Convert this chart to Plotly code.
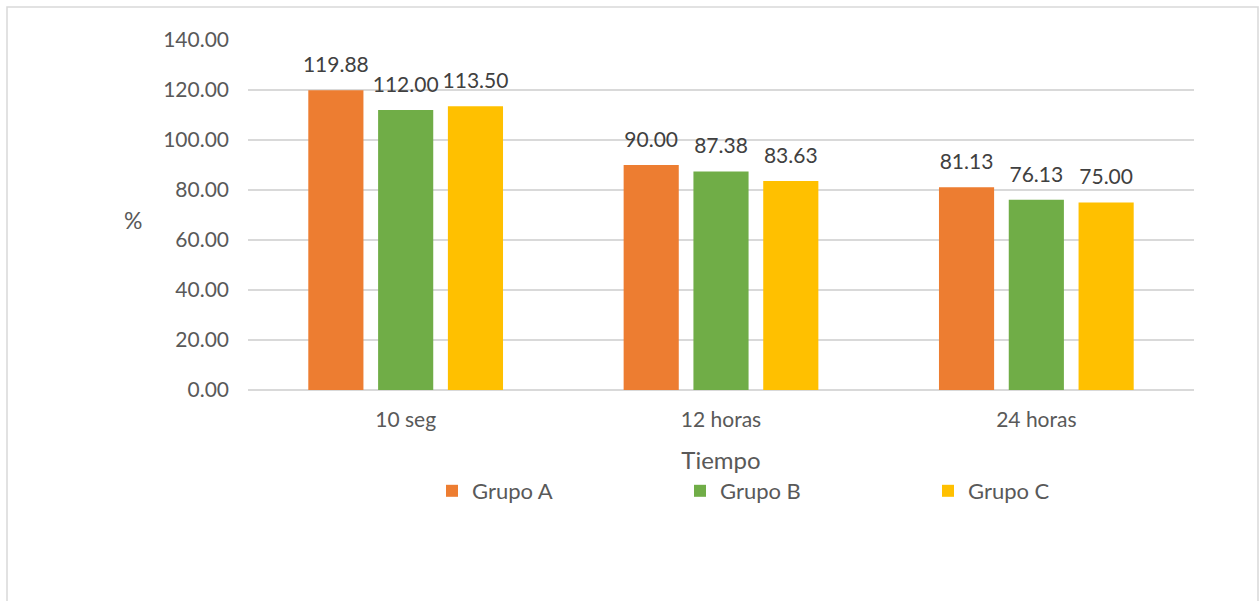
import plotly.graph_objects as go

categories = ["10 seg", "12 horas", "24 horas"]
series_names = ["Grupo A", "Grupo B", "Grupo C"]
grupo_a = [119.88, 90.00, 81.13]
grupo_b = [112.00, 87.38, 76.13]
grupo_c = [113.50, 83.63, 75.00]
y_ticks = [0, 20, 40, 60, 80, 100, 120, 140]

colors = ["#ED7D31", "#70AD47", "#FFC000"]
values = [grupo_a, grupo_b, grupo_c]

FONT = "Lato, 'Open Sans', sans-serif"
W, H = 1259, 601
ML, MR, MT, MB = 248, 65, 40, 211
PW = W - ML - MR
PH = H - MT - MB
GAP = 0.336

fig = go.Figure()
for name, vals, col in zip(series_names, values, colors):
    fig.add_trace(go.Bar(
        x=categories, y=vals, name=name,
        marker=dict(color=col, line=dict(width=0)),
        offsetgroup=name,
    ))
for name, vals in zip(series_names, values):
    fig.add_trace(go.Scatter(
        x=categories, y=vals, mode="markers+text",
        text=[f"{v:.2f}" for v in vals], textposition="top center",
        textfont=dict(family=FONT, size=21, color="#404040"),
        marker=dict(size=19, opacity=0),
        offsetgroup=name, showlegend=False, hoverinfo="skip",
        cliponaxis=False,
    ))

fig.update_layout(
    width=W, height=H,
    margin=dict(l=ML, r=MR, t=MT, b=MB),
    paper_bgcolor="white", plot_bgcolor="white",
    barmode="group", bargap=GAP, bargroupgap=0.21,
    scattermode="group", scattergap=GAP,
    font=dict(family=FONT, color="#595959"),
    showlegend=True,
    legend=dict(
        orientation="h", x=(432 - ML) / PW, xanchor="left",
        y=(MT + PH - 491) / PH, yanchor="middle",
        entrywidth=203, entrywidthmode="pixels",
        font=dict(family=FONT, size=22, color="#595959"),
        bgcolor="rgba(0,0,0,0)", traceorder="normal",
    ),
    xaxis=dict(
        type="category", categoryarray=categories,
        showgrid=False, showline=False, zeroline=False,
        tickfont=dict(family=FONT, size=21, color="#595959"),
        ticklabelstandoff=15,
        title=dict(text="Tiempo", standoff=22,
                   font=dict(family=FONT, size=24, color="#595959")),
    ),
    yaxis=dict(
        range=[0, 140], tickvals=y_ticks, tickformat=".2f",
        showgrid=True, gridcolor="#d9d9d9", gridwidth=1.5,
        zeroline=True, zerolinecolor="#d9d9d9", zerolinewidth=1.5,
        showline=False,
        tickfont=dict(family=FONT, size=21, color="#595959"),
        ticklabelstandoff=18,
    ),
    annotations=[dict(
        text="%", xref="paper", yref="paper",
        x=(133 - ML) / PW, y=(MT + PH - 220) / PH,
        xanchor="center", yanchor="middle", showarrow=False,
        font=dict(family=FONT, size=23, color="#595959"),
    )],
    shapes=[dict(
        type="rect", xref="paper", yref="paper",
        x0=(7 - ML) / PW, x1=(1258 - ML) / PW,
        y0=(MT + PH - 640) / PH, y1=(MT + PH - 7) / PH,
        line=dict(color="#d9d9d9", width=1.5), fillcolor="rgba(0,0,0,0)",
        layer="below",
    )],
)

fig.write_html("out.html")
